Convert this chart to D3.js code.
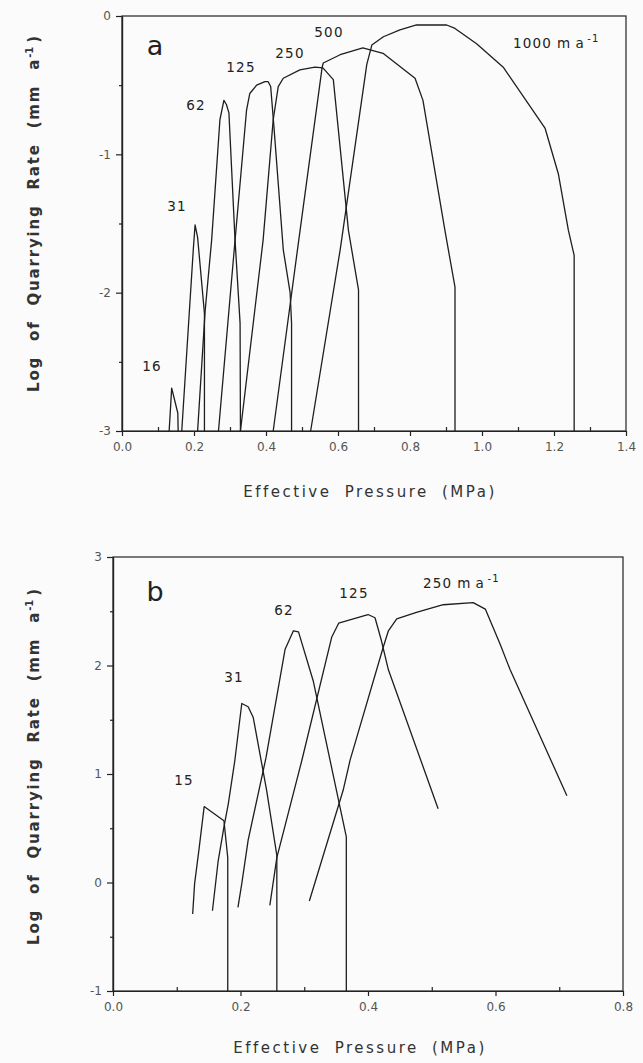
<!DOCTYPE html>
<html>
<head>
<meta charset="utf-8">
<script src="https://cdn.jsdelivr.net/npm/d3@7"></script>
<style>
  body { margin: 0; background: #fafbfa; }
  svg { display: block; }
  .tick text { font-family: "DejaVu Sans", sans-serif; font-size: 12px; fill: #555; }
  .tick line, .domain { stroke: #222; stroke-width: 1.2; }
</style>
</head>
<body>
<div id="chart"></div>
<script>
// panel a: effective pressure (MPa), log quarrying rate
var a16 = [[0.131,-3],[0.138,-2.69],[0.155,-2.87],[0.156,-3]];
var a31 = [[0.166,-3],[0.198,-1.69],[0.203,-1.51],[0.21,-1.6],[0.229,-2.15],[0.229,-3]];
var a62 = [[0.21,-3],[0.231,-2.13],[0.249,-1.62],[0.272,-0.75],[0.283,-0.61],[0.29,-0.64],[0.297,-0.7],[0.314,-1.62],[0.328,-2.22],[0.329,-3]];
var a125 = [[0.268,-3],[0.31,-1.74],[0.346,-0.68],[0.355,-0.56],[0.374,-0.5],[0.397,-0.475],[0.406,-0.475],[0.413,-0.51],[0.422,-0.8],[0.448,-1.69],[0.467,-2.0],[0.471,-2.22],[0.471,-3]];
var a250 = [[0.329,-3],[0.392,-1.62],[0.42,-0.75],[0.434,-0.51],[0.448,-0.45],[0.494,-0.39],[0.536,-0.37],[0.558,-0.375],[0.587,-0.46],[0.629,-1.55],[0.657,-1.98],[0.657,-3]];
var a500 = [[0.42,-3],[0.491,-1.62],[0.556,-0.37],[0.559,-0.34],[0.606,-0.28],[0.669,-0.23],[0.725,-0.27],[0.814,-0.45],[0.836,-0.61],[0.897,-1.55],[0.925,-1.96],[0.925,-3]];
var a1000 = [[0.524,-3],[0.606,-1.69],[0.68,-0.35],[0.694,-0.21],[0.726,-0.15],[0.772,-0.1],[0.818,-0.065],[0.902,-0.065],[0.925,-0.09],[0.985,-0.2],[1.059,-0.37],[1.175,-0.81],[1.212,-1.14],[1.24,-1.55],[1.256,-1.73],[1.256,-3]];

// panel b
var b15 = [[0.125,-0.29],[0.128,-0.01],[0.135,0.31],[0.143,0.7],[0.174,0.57],[0.18,0.23],[0.18,-1]];
var b31 = [[0.156,-0.26],[0.165,0.2],[0.174,0.51],[0.181,0.73],[0.191,1.12],[0.202,1.65],[0.212,1.62],[0.22,1.52],[0.241,0.85],[0.257,0.25],[0.257,-1]];
var b62 = [[0.196,-0.23],[0.202,-0.01],[0.212,0.39],[0.24,1.15],[0.27,2.15],[0.283,2.32],[0.291,2.31],[0.314,1.86],[0.366,0.42],[0.366,-1]];
var b125 = [[0.246,-0.21],[0.257,0.23],[0.296,1.12],[0.343,2.26],[0.354,2.39],[0.377,2.43],[0.4,2.47],[0.411,2.44],[0.421,2.23],[0.432,1.96],[0.51,0.68]];
var b250 = [[0.308,-0.17],[0.361,0.85],[0.372,1.13],[0.424,2.17],[0.432,2.32],[0.445,2.43],[0.476,2.49],[0.518,2.56],[0.565,2.58],[0.584,2.52],[0.607,2.2],[0.623,1.96],[0.712,0.8]];

var xTicksA = [0, 0.2, 0.4, 0.6, 0.8, 1.0, 1.2, 1.4];
var yTicksA = [0, -1, -2, -3];
var xTicksB = [0, 0.2, 0.4, 0.6, 0.8];
var yTicksB = [3, 2, 1, 0, -1];

var svg = d3.select('#chart').append('svg')
  .attr('width', 643)
  .attr('height', 1063);

var drawPanel = function(opt) {
  var x = d3.scaleLinear().domain(opt.xDomain).range(opt.xRange);
  var y = d3.scaleLinear().domain(opt.yDomain).range(opt.yRange);
  var g = svg.append('g');

  // frame
  g.append('rect')
    .attr('x', opt.xRange[0]).attr('y', opt.yRange[1])
    .attr('width', opt.xRange[1] - opt.xRange[0])
    .attr('height', opt.yRange[0] - opt.yRange[1])
    .attr('fill', 'none').attr('stroke', '#222').attr('stroke-width', 1.2);

  // minor ticks
  var xMinor = d3.range(opt.xDomain[0] + 0.1, opt.xDomain[1], 0.2);
  g.append('g')
    .attr('transform', 'translate(0,' + opt.yRange[0] + ')')
    .call(d3.axisBottom(x).tickValues(xMinor).tickSize(-4).tickSizeOuter(0).tickFormat(''));
  var yMinor = d3.range(opt.yDomain[0] + 0.5, opt.yDomain[1], 1);
  g.append('g')
    .attr('transform', 'translate(' + opt.xRange[0] + ',0)')
    .call(d3.axisLeft(y).tickValues(yMinor).tickSize(3).tickSizeOuter(0).tickFormat(''));

  // major ticks
  g.append('g')
    .attr('transform', 'translate(0,' + opt.yRange[0] + ')')
    .call(d3.axisBottom(x).tickValues(opt.xTicks).tickSize(5).tickSizeOuter(0)
      .tickPadding(6).tickFormat(d3.format('.1f')));
  g.append('g')
    .attr('transform', 'translate(' + opt.xRange[0] + ',0)')
    .call(d3.axisLeft(y).tickValues(opt.yTicks).tickSize(6).tickSizeOuter(0)
      .tickPadding(5).tickFormat(function(d) { return String(d); }));

  var line = d3.line()
    .x(function(d) { return x(d[0]); })
    .y(function(d) { return y(d[1]); });

  opt.curves.forEach(function(c) {
    g.append('path')
      .attr('d', line(c))
      .attr('fill', 'none')
      .attr('stroke', '#1e1e1e')
      .attr('stroke-width', 1.3)
      .attr('stroke-linejoin', 'round');
  });

  // curve labels
  opt.labels.forEach(function(l) {
    var t = g.append('text')
      .attr('x', l[1]).attr('y', l[2])
      .attr('text-anchor', 'middle')
      .attr('font-family', 'DejaVu Sans, sans-serif')
      .attr('font-size', 13.5)
      .attr('letter-spacing', 1.2)
      .attr('fill', '#222')
      .text(l[0]);
    if (l[3]) {
      t.attr('text-anchor', 'start');
      t.append('tspan').attr('letter-spacing', 0.5).text(' m a');
      t.append('tspan').attr('dy', -6).attr('dx', 3).attr('font-size', 10).text('-1');
    }
  });

  g.append('text')
    .attr('x', opt.letter[1]).attr('y', opt.letter[2])
    .attr('text-anchor', 'middle')
    .attr('font-family', 'DejaVu Sans, sans-serif')
    .attr('font-size', 27)
    .attr('fill', '#222')
    .text(opt.letter[0]);

  // axis titles
  g.append('text')
    .attr('x', opt.xTitle[0]).attr('y', opt.xTitle[1])
    .attr('text-anchor', 'middle')
    .attr('font-family', 'DejaVu Sans, sans-serif')
    .attr('font-size', 15)
    .attr('letter-spacing', 2.5)
    .attr('word-spacing', 6)
    .attr('fill', '#333')
    .text('Effective Pressure   (MPa)');

  var yt = g.append('text')
    .attr('transform', 'translate(' + opt.yTitle[0] + ',' + opt.yTitle[1] + ') rotate(-90)')
    .attr('text-anchor', 'middle')
    .attr('font-family', 'DejaVu Sans, sans-serif')
    .attr('font-weight', 'bold')
    .attr('font-size', 15)
    .attr('letter-spacing', 1.8)
    .attr('word-spacing', 8)
    .attr('fill', '#333')
    .text('Log of Quarrying Rate (mm a');
  yt.append('tspan').attr('dy', -6).attr('font-size', 10).attr('letter-spacing', 0).text('-1');
  yt.append('tspan').attr('dy', 6).attr('dx', 4).text(')');
};

drawPanel({
  xDomain: [0, 1.4], xRange: [122, 626],
  yDomain: [-3, 0], yRange: [431, 16],
  xTicks: xTicksA, yTicks: yTicksA,
  curves: [a16, a31, a62, a125, a250, a500, a1000],
  labels: [['16', 152, 371], ['31', 177, 211], ['62', 196, 110], ['125', 241, 72],
    ['250', 290, 58], ['500', 329, 37], ['1000', 513, 48, true]],
  letter: ['a', 155, 55],
  xTitle: [370, 497],
  yTitle: [39, 213]
});

drawPanel({
  xDomain: [0, 0.8], xRange: [113, 623],
  yDomain: [-1, 3], yRange: [991, 557],
  xTicks: xTicksB, yTicks: yTicksB,
  curves: [b15, b31, b62, b125, b250],
  labels: [['15', 184, 785], ['31', 234, 682], ['62', 284, 615], ['125', 354, 598],
    ['250', 423, 588, true]],
  letter: ['b', 155, 601],
  xTitle: [360, 1053],
  yTitle: [39, 766]
});
</script>
</body>
</html>
